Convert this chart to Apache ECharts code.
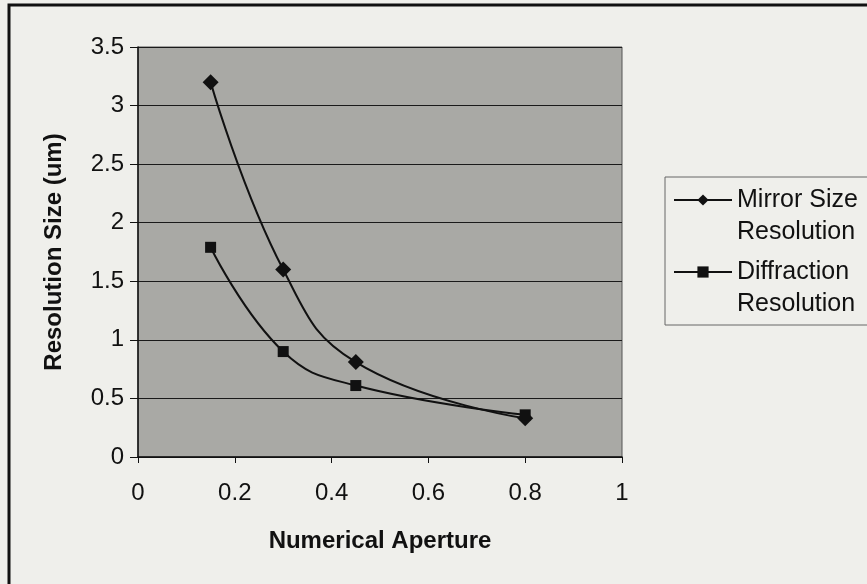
<!DOCTYPE html>
<html>
<head>
<meta charset="utf-8">
<script src="https://cdn.jsdelivr.net/npm/echarts@6/dist/echarts.min.js"></script>
<style>
  html, body { margin: 0; padding: 0; background: #efefeb; }
  #chart { width: 867px; height: 584px; }
</style>
</head>
<body>
<div id="chart"></div>
<script>
// values
const aperture = [0.15, 0.3, 0.45, 0.8];
const mirrorSize = [3.2, 1.6, 0.81, 0.33];
const diffraction = [1.79, 0.9, 0.61, 0.36];
const seriesNames = ['Mirror Size\nResolution', 'Diffraction\nResolution'];

const pairs = (xs, ys) => xs.map((x, i) => [x, ys[i]]);
const font = 'Liberation Sans, Arial, sans-serif';

const chart = echarts.init(document.getElementById('chart'), null, { renderer: 'canvas' });
chart.setOption({
  backgroundColor: '#efefeb',
  animation: false,
  textStyle: { fontFamily: font },
  grid: { left: 138, top: 47, width: 484, height: 410, show: true, backgroundColor: '#a9a9a5', borderColor: '#555', borderWidth: 1 },
  graphic: [{
    type: 'rect',
    shape: { x: 9, y: 5, width: 880, height: 600 },
    style: { fill: 'none', stroke: '#111', lineWidth: 3 },
    z: 0
  }],
  legend: {
    orient: 'vertical',
    left: 665,
    top: 177,
    padding: [-25, 20, 5, 8],
    itemGap: -24,
    itemWidth: 58,
    itemHeight: 14,
    backgroundColor: '#efefeb',
    borderColor: '#666',
    borderWidth: 1,
    // a blank first line keeps the icon level with the first text line
    formatter: name => '\n' + name,
    textStyle: { fontSize: 25, color: '#111', fontFamily: font, lineHeight: 32 },
    data: seriesNames
  },
  xAxis: {
    type: 'value',
    min: 0, max: 1, interval: 0.2,
    name: 'Numerical Aperture',
    nameLocation: 'middle',
    nameGap: 72,
    nameTextStyle: { fontSize: 24, fontWeight: 'bold', color: '#111' },
    axisLine: { show: true, onZero: false, lineStyle: { color: '#111', width: 1.5 } },
    axisTick: { show: true, length: 6, lineStyle: { color: '#111' } },
    axisLabel: { fontSize: 24, color: '#111', margin: 24 },
    splitLine: { show: false }
  },
  yAxis: {
    type: 'value',
    min: 0, max: 3.5, interval: 0.5,
    name: 'Resolution Size (um)',
    nameLocation: 'middle',
    nameGap: 72,
    nameTextStyle: { fontSize: 24, fontWeight: 'bold', color: '#111' },
    axisLine: { show: true, lineStyle: { color: '#111', width: 1.5 } },
    axisTick: { show: true, length: 8, lineStyle: { color: '#111' } },
    axisLabel: { fontSize: 24, color: '#111', margin: 14 },
    splitLine: { show: true, lineStyle: { color: '#1a1a1a', width: 1.2 } }
  },
  series: [
    {
      name: seriesNames[0],
      type: 'line',
      smooth: 0.45,
      data: pairs(aperture, mirrorSize),
      symbol: 'diamond',
      symbolSize: 16,
      itemStyle: { color: '#111' },
      lineStyle: { color: '#111', width: 2 }
    },
    {
      name: seriesNames[1],
      type: 'line',
      smooth: 0.45,
      data: pairs(aperture, diffraction),
      symbol: 'rect',
      symbolSize: 11,
      itemStyle: { color: '#111' },
      lineStyle: { color: '#111', width: 2 }
    }
  ]
});
</script>
</body>
</html>
